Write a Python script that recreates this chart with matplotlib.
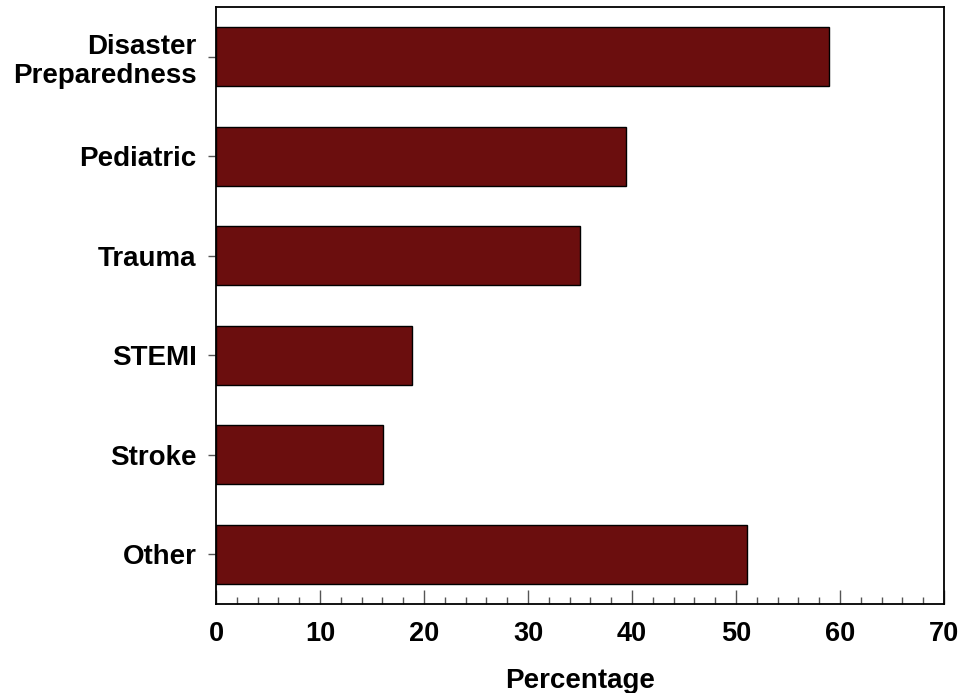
import matplotlib.pyplot as plt
from matplotlib.ticker import MultipleLocator

# =========================
# data
# =========================
categories = ["Disaster\nPreparedness", "Pediatric", "Trauma", "STEMI", "Stroke", "Other"]
percentages = [58.9, 39.4, 35.0, 18.8, 16.1, 51.1]

plt.rcParams["font.family"] = ["Liberation Sans", "DejaVu Sans"]
plt.rcParams["font.weight"] = "bold"

fig = plt.figure(figsize=(9.66, 6.93), dpi=100)
ax = fig.add_axes([0.2236, 0.1284, 0.7536, 0.8616])

ypos = list(range(len(categories)))
ax.barh(ypos, percentages, height=0.59, color="#6B0E0E",
        edgecolor="black", linewidth=1.0)

ax.set_ylim(len(categories) - 0.5, -0.5)
ax.set_yticks(ypos)
ax.set_yticklabels(categories, fontsize=20, fontweight="bold", linespacing=1.15)

ax.set_xlim(0, 70)
ax.xaxis.set_major_locator(MultipleLocator(10))
ax.xaxis.set_minor_locator(MultipleLocator(2))
ax.tick_params(axis="x", which="major", direction="in", length=10, width=1,
               labelsize=19.5, pad=12, color="#555555")
ax.tick_params(axis="x", which="minor", direction="in", length=5, width=1,
               color="#555555")
ax.tick_params(axis="y", which="major", direction="out", length=6, width=1,
               pad=8, color="#555555")
for lab in ax.get_xticklabels():
    lab.set_fontweight("bold")

ax.set_xlabel("Percentage", fontsize=20, fontweight="bold", labelpad=15)

for s in ax.spines.values():
    s.set_linewidth(1.3)

plt.savefig("out.png", dpi=100)
plt.close()
